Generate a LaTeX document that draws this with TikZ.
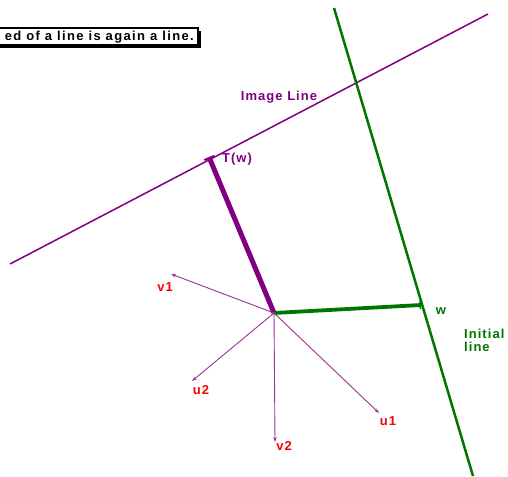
\documentclass[tikz,border=0pt]{standalone}
\usepackage{fontspec}
\setmainfont{Liberation Sans}
\usetikzlibrary{arrows.meta}
\definecolor{imgpurple}{RGB}{128,0,128}
\definecolor{initgreen}{RGB}{0,118,0}
\definecolor{vecred}{RGB}{250,0,0}
\tikzset{
  lbl/.style={font=\bfseries\fontsize{13}{13}\selectfont\addfontfeatures{LetterSpace=8}, inner sep=0pt},
  notelbl/.style={font=\bfseries\fontsize{13}{13}\selectfont\addfontfeatures{LetterSpace=10.5}, inner sep=0pt},
  vec/.style={draw=imgpurple!80, line width=0.9pt, -{Stealth[length=5pt,width=3.5pt]}},
}

\begin{document}
\begin{tikzpicture}[x=1pt, y=-1pt]
      \useasboundingbox (0,0) rectangle (508,476);
      \clip (0,0) rectangle (508,476);
      \fill (-5,31) rectangle (201,48);
      \draw[fill=white, line width=1.2pt] (-5,28) rectangle (198,45);
      \node[notelbl, anchor=base east] (note) at (194,41) {ed of a line is again a line.};
      \coordinate (il1) at (10,264);
      \coordinate (il2) at (488,14);
      \coordinate (gl1) at (334,8);
      \coordinate (gl2) at (473,476);
      \draw[imgpurple, line width=1.5pt] (il1) -- (il2);
      \draw[initgreen, line width=2.5pt] (gl1) -- (gl2);
      \coordinate (o) at (274,313);
      \coordinate (tw) at (209,157);
      \coordinate (w) at (421,305);
      \draw[imgpurple, line width=5pt, -{Bar[width=11pt,line width=2pt]}] (o) -- (tw);
      \draw[initgreen, line width=3.8pt, -{Bar[width=8pt,line width=1.5pt]}] (o) -- (w);
      \node[lbl, vecred] (v1) at (165,287) {v1};
      \node[lbl, vecred] (u2) at (201,390) {u2};
      \node[lbl, vecred] (v2) at (284,446) {v2};
      \node[lbl, vecred] (u1) at (388,421) {u1};
      \coordinate (v1e) at (171,274);
      \coordinate (u2e) at (192,381);
      \coordinate (v2e) at (275,442);
      \coordinate (u1e) at (379,413);
      \draw[vec] (o) -- (v1e);
      \draw[vec] (o) -- (u2e);
      \draw[vec] (o) -- (v2e);
      \draw[vec] (o) -- (u1e);
      \node[lbl, imgpurple] (imgl) at (279,97) {Image Line};
      \node[lbl, imgpurple] (twl) at (237,159) {T(w)};
      \node[lbl, initgreen] (wl) at (441,311) {w};
      \node[lbl, initgreen, anchor=west, align=left] (initl) at (464,340) {Initial\\line};
    \end{tikzpicture}
\end{document}
